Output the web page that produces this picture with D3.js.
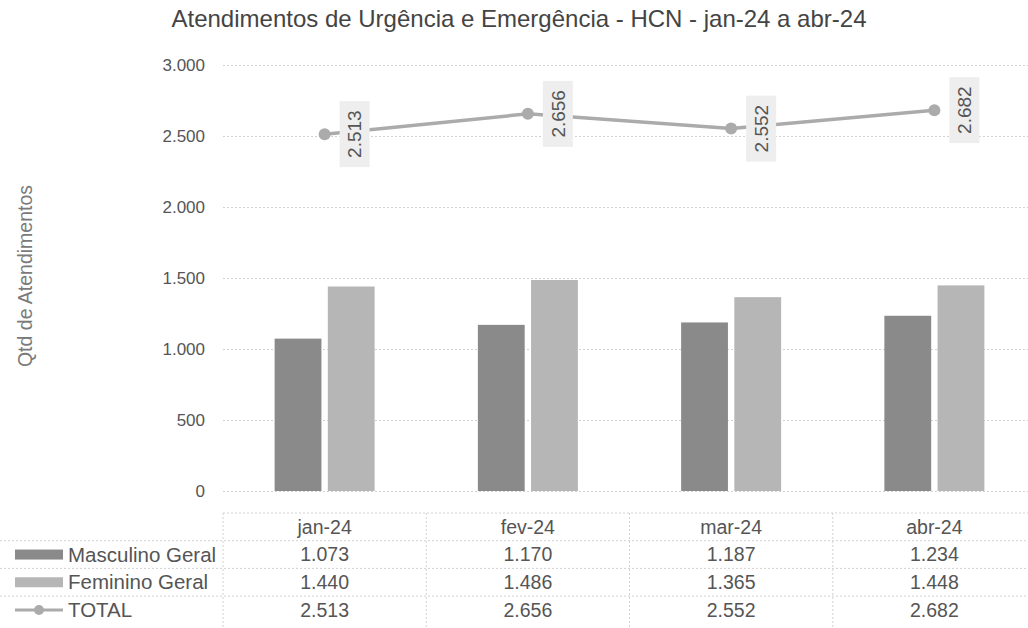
<!DOCTYPE html>
<html>
<head>
<meta charset="utf-8">
<script src="https://cdn.jsdelivr.net/npm/d3@7"></script>
<style>
  html, body { margin: 0; padding: 0; background: #fff; }
  svg { display: block; font-family: "Liberation Sans", Arial, sans-serif; }
</style>
</head>
<body>
<svg id="chart" width="1028" height="628"></svg>
<script>
const categories = ["jan-24", "fev-24", "mar-24", "abr-24"];
const seriesNames = ["Masculino Geral", "Feminino Geral"];
const masculino = [1073, 1170, 1187, 1234];
const feminino = [1440, 1486, 1365, 1448];
const total = [2513, 2656, 2552, 2682];
const yTicks = [0, 500, 1000, 1500, 2000, 2500, 3000];
const title = "Atendimentos de Urgência e Emergência - HCN - jan-24 a abr-24";
const yTitle = "Qtd de Atendimentos";
const totalName = "TOTAL";

const fmt = v => d3.format(",")(v).replace(/,/g, ".");
const colors = { "Masculino Geral": "#8a8a8a", "Feminino Geral": "#b6b6b6", line: "#ababab" };

const svg = d3.select("#chart");
const W = 1028, H = 628;
const pLeft = 223, pRight = 1036, pTop = 65, pBottom = 491;

const x = d3.scaleBand().domain(categories).range([pLeft, pRight]);
const bw = x.bandwidth();
const x1 = d3.scaleBand().domain(seriesNames).range([bw / 2 - 50, bw / 2 + 50]).paddingInner(0.12);
const y = d3.scaleLinear().domain([0, 3000]).range([pBottom, pTop]);

// title
svg.append("text").attr("x", 519).attr("y", 27).attr("text-anchor", "middle")
  .attr("font-size", 24).attr("fill", "#444").text(title);

// y-axis title
svg.append("text").attr("transform", `translate(32,276) rotate(-90)`)
  .attr("text-anchor", "middle").attr("font-size", 19.5).attr("fill", "#7a7a7a").text(yTitle);

// gridlines + tick labels via axis
const yAxis = d3.axisLeft(y).tickValues(yTicks).tickFormat(fmt).tickSize(-(pRight - pLeft)).tickPadding(18);
const gy = svg.append("g").attr("transform", `translate(${pLeft},0)`).call(yAxis);
gy.select(".domain").remove();
gy.selectAll(".tick line").attr("stroke", "#d2d2d2").attr("stroke-dasharray", "2,2");
gy.selectAll(".tick text").attr("font-size", 17).attr("fill", "#555").attr("font-family", "Liberation Sans, Arial, sans-serif");

// bars
const rows = categories.map((c, i) => ({ cat: c, values: [masculino[i], feminino[i]] }));
const groups = svg.append("g").selectAll("g").data(rows).join("g")
  .attr("transform", d => `translate(${x(d.cat)},0)`);
groups.selectAll("rect").data(d => seriesNames.map((s, j) => ({ s, v: d.values[j] }))).join("rect")
  .attr("x", d => x1(d.s)).attr("width", x1.bandwidth())
  .attr("y", d => y(d.v)).attr("height", d => y(0) - y(d.v))
  .attr("fill", d => colors[d.s]);

// total line
const pts = categories.map((c, i) => ({ cat: c, v: total[i] }));
const cx = d => x(d.cat) + bw / 2;
svg.append("path").datum(pts)
  .attr("d", d3.line().x(cx).y(d => y(d.v)))
  .attr("fill", "none").attr("stroke", colors.line).attr("stroke-width", 3.5);
svg.append("g").selectAll("circle").data(pts).join("circle")
  .attr("cx", cx).attr("cy", d => y(d.v)).attr("r", 6).attr("fill", colors.line);

// data labels (rotated)
const lab = svg.append("g").selectAll("g").data(pts).join("g")
  .attr("transform", d => `translate(${cx(d) + 30},${y(d.v)}) rotate(-90)`);
lab.append("rect").attr("x", -33).attr("y", -15).attr("width", 66).attr("height", 30).attr("fill", "#eeeeee");
lab.append("text").attr("text-anchor", "middle").attr("dy", "0.35em")
  .attr("font-size", 19).attr("fill", "#555").text(d => fmt(d.v));

// table
const tTop = 513, rh = 27.7;
const tg = svg.append("g");
const hLines = [0, 1, 2, 3];
tg.selectAll("line.h").data(hLines).join("line")
  .attr("x1", d => d === 0 ? pLeft : 0).attr("x2", pRight)
  .attr("y1", d => tTop + d * rh).attr("y2", d => tTop + d * rh)
  .attr("stroke", "#d2d2d2").attr("stroke-dasharray", "2,2");
tg.selectAll("line.v").data([pLeft, ...categories.map(c => x(c) + bw)]).join("line")
  .attr("x1", d => d).attr("x2", d => d).attr("y1", tTop).attr("y2", H)
  .attr("stroke", "#d2d2d2").attr("stroke-dasharray", "2,2");

// header
tg.selectAll("text.hd").data(categories).join("text")
  .attr("x", c => x(c) + bw / 2).attr("y", tTop + rh / 2).attr("dy", "0.35em")
  .attr("text-anchor", "middle").attr("font-size", 19.5).attr("fill", "#555").text(c => c);

const tableRows = [
  { name: seriesNames[0], vals: masculino, kind: "bar" },
  { name: seriesNames[1], vals: feminino, kind: "bar" },
  { name: totalName, vals: total, kind: "line" }
];
tableRows.forEach((r, ri) => {
  const cy = tTop + rh * (ri + 1) + rh / 2;
  if (r.kind === "bar") {
    tg.append("rect").attr("x", 15).attr("y", cy - 5).attr("width", 48).attr("height", 10).attr("fill", colors[r.name]);
  } else {
    tg.append("line").attr("x1", 15).attr("x2", 63).attr("y1", cy).attr("y2", cy)
      .attr("stroke", colors.line).attr("stroke-width", 3);
    tg.append("circle").attr("cx", 39).attr("cy", cy).attr("r", 5).attr("fill", colors.line);
  }
  tg.append("text").attr("x", 68).attr("y", cy).attr("dy", "0.35em")
    .attr("font-size", 20.5).attr("fill", "#555").text(r.name);
  tg.selectAll(null).data(categories).join("text")
    .attr("x", c => x(c) + bw / 2).attr("y", cy).attr("dy", "0.35em")
    .attr("text-anchor", "middle").attr("font-size", 19.5).attr("fill", "#555")
    .text((c, i) => fmt(r.vals[i]));
});
</script>
</body>
</html>
